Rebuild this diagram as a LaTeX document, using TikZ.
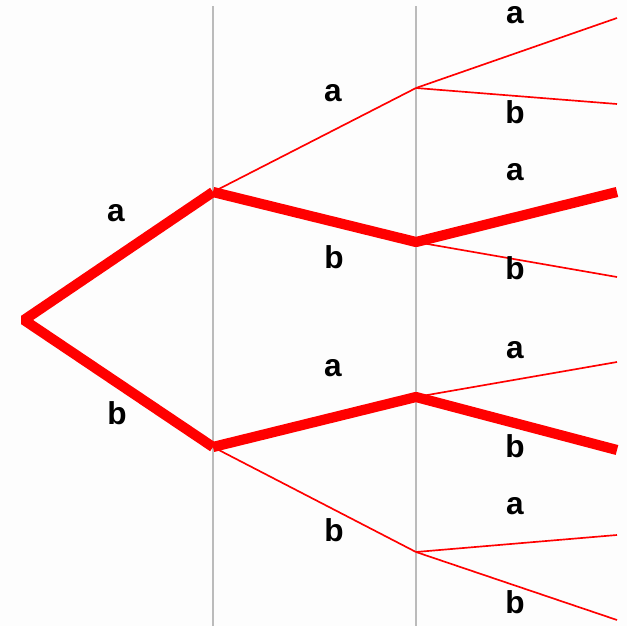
\documentclass[tikz,border=0pt]{standalone}
\usepackage{fontspec}
\setmainfont{Liberation Sans}
\usepackage{xcolor}
\definecolor{treeRed}{HTML}{FF0000}
\definecolor{treeGrid}{HTML}{BBBBBB}
\definecolor{treeBack}{HTML}{FDFDFD}
\usepackage{tikz}
\begin{document}
\begin{tikzpicture}[
    x=0.02cm, y=-0.02cm,
    grid/.style={draw=treeGrid, line width=1.1pt},
    fat/.style={draw=treeRed, line width=5.8pt, line join=bevel},
    slim/.style={draw=treeRed, line width=0.95pt},
    lab/.style={font=\bfseries\fontsize{18}{18}\selectfont, inner sep=0pt}
  ]
    \fill[treeBack] (0,0) rectangle (627,626);
    \useasboundingbox (0,0) rectangle (627,626);
    \coordinate (g1t) at (213,6);
    \coordinate (g1b) at (213,626);
    \coordinate (g2t) at (416,6);
    \coordinate (g2b) at (416,626);
    \draw[grid] (g1t) -- (g1b);
    \draw[grid] (g2t) -- (g2b);
    \coordinate (root) at (24,320);
    \coordinate (na) at (213,192);
    \coordinate (nb) at (213,447);
    \coordinate (naa) at (416,88);
    \coordinate (nab) at (416,242);
    \coordinate (nba) at (416,397);
    \coordinate (nbb) at (416,552);
    \coordinate (laaa) at (617,18);
    \coordinate (laab) at (617,104);
    \coordinate (laba) at (617,192);
    \coordinate (labb) at (617,277);
    \coordinate (lbaa) at (617,362);
    \coordinate (lbab) at (617,450);
    \coordinate (lbba) at (617,535);
    \coordinate (lbbb) at (617,620);
    \draw[slim] (na) -- (naa);
    \draw[slim] (naa) -- (laaa);
    \draw[slim] (naa) -- (laab);
    \draw[slim] (nab) -- (labb);
    \draw[slim] (nba) -- (lbaa);
    \draw[slim] (nb) -- (nbb);
    \draw[slim] (nbb) -- (lbba);
    \draw[slim] (nbb) -- (lbbb);
    \draw[fat] (na) -- (root) -- (nb);
    \draw[fat] (na) -- (nab) -- (laba);
    \draw[fat] (nb) -- (nba) -- (lbab);
    \node[lab] (ta) at (116,213) {a};
    \node[lab] (tb) at (117,413) {b};
    \node[lab] (taa) at (333,93) {a};
    \node[lab] (tab) at (334,257) {b};
    \node[lab] (tba) at (333,368) {a};
    \node[lab] (tbb) at (334,530) {b};
    \node[lab] (taaa) at (515,15) {a};
    \node[lab] (taab) at (515,112) {b};
    \node[lab] (taba) at (515,172) {a};
    \node[lab] (tabb) at (515,268) {b};
    \node[lab] (tbaa) at (515,350) {a};
    \node[lab] (tbab) at (515,446) {b};
    \node[lab] (tbba) at (515,506) {a};
    \node[lab] (tbbb) at (515,602) {b};
  \end{tikzpicture}
\end{document}
